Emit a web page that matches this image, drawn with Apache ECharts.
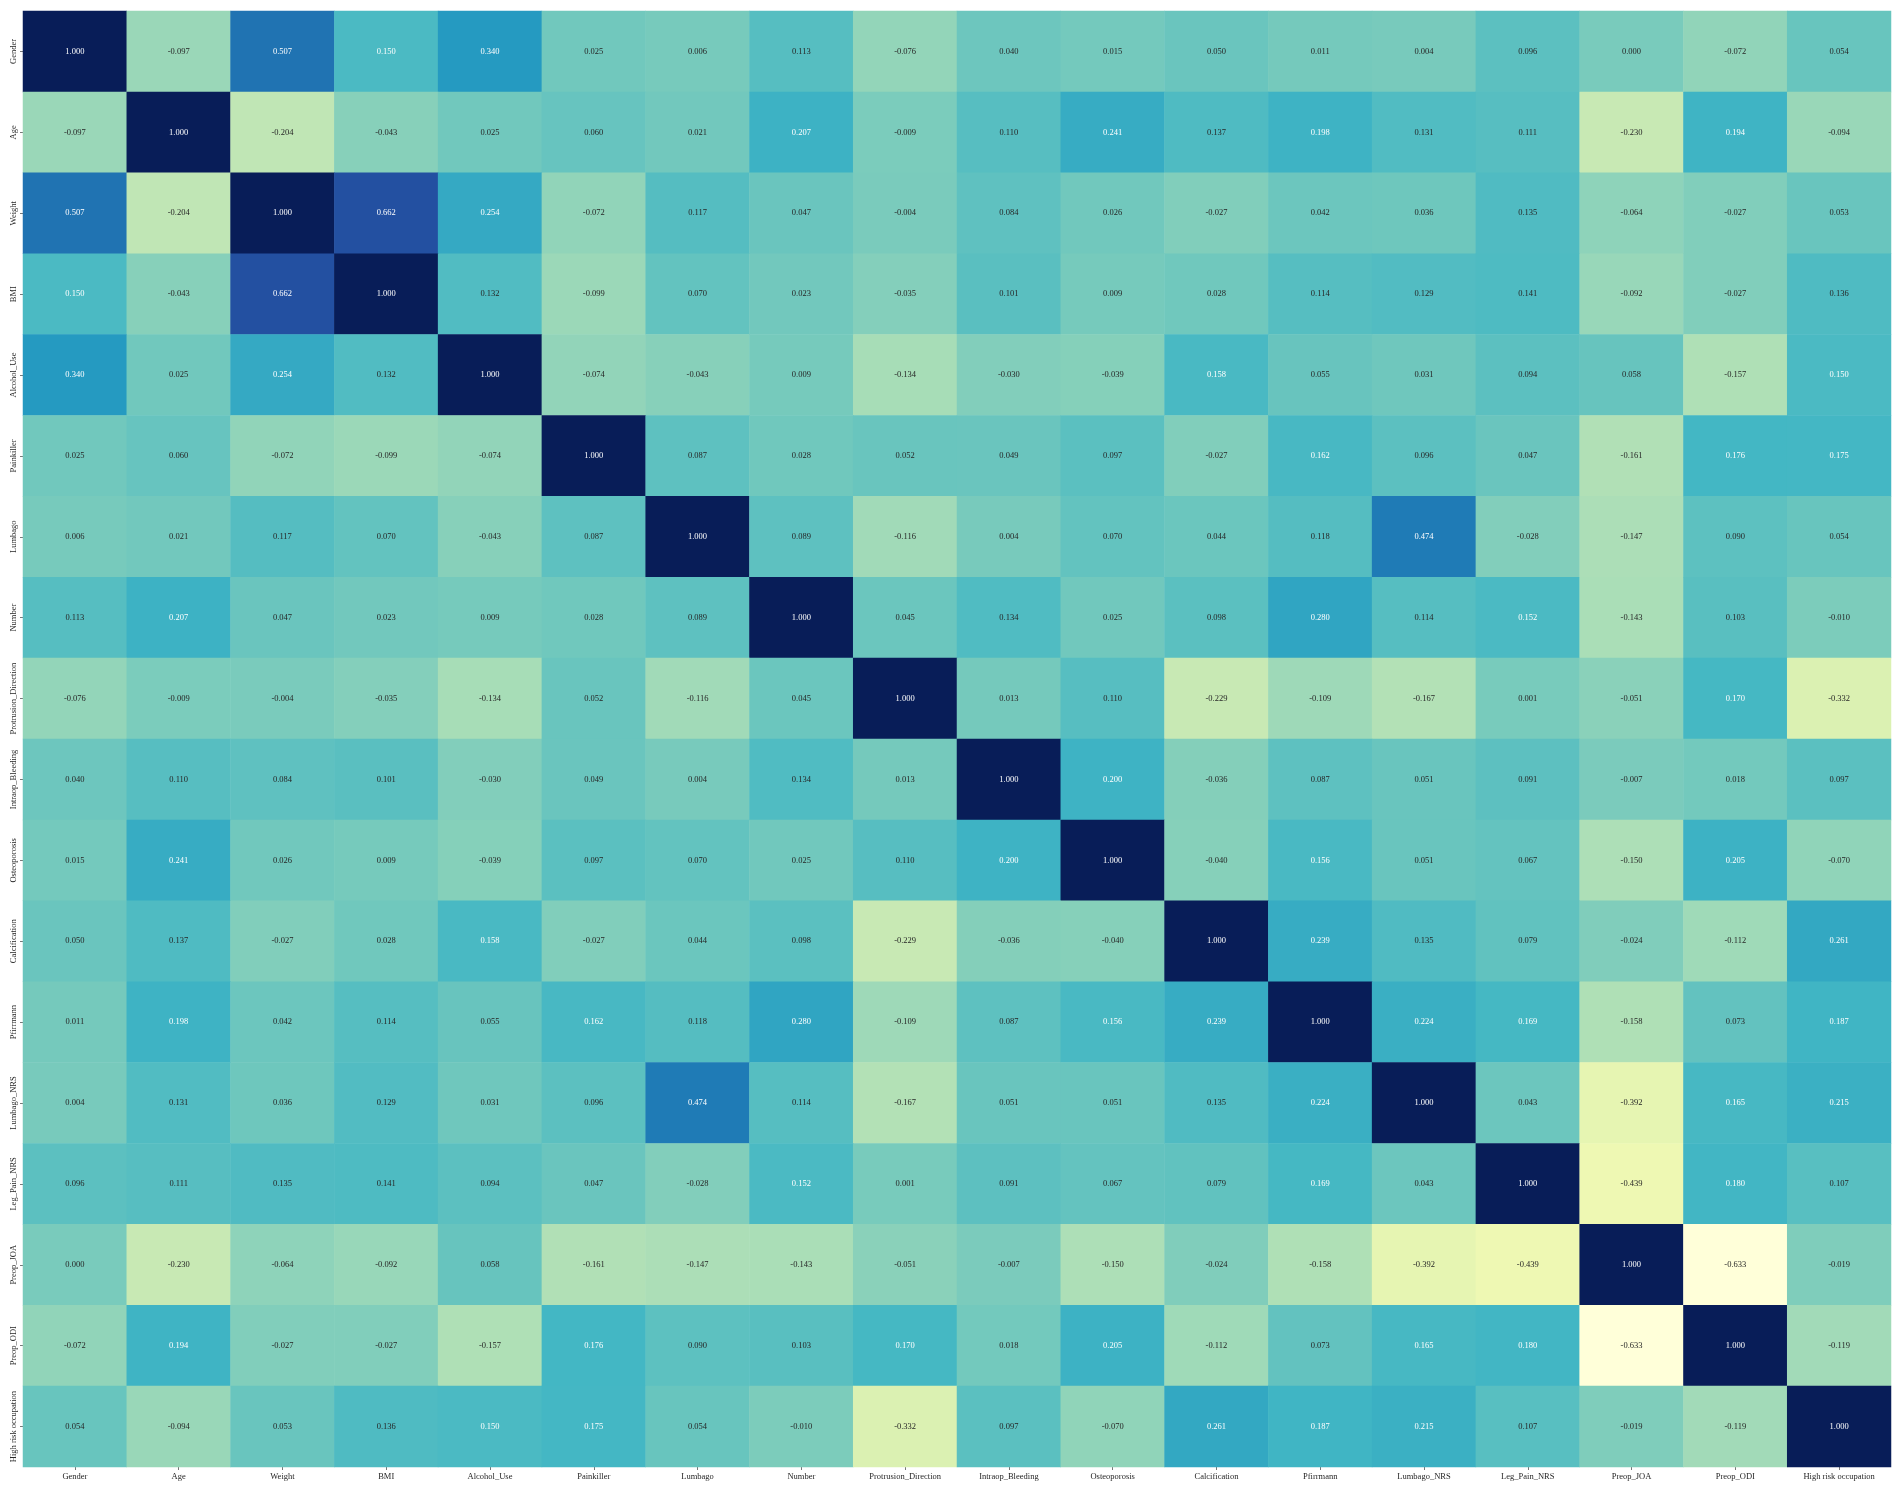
<!DOCTYPE html>
<html>
<head>
<meta charset="utf-8">
<script src="https://cdn.jsdelivr.net/npm/echarts@6/dist/echarts.min.js"></script>
<style>
html,body{margin:0;padding:0;background:#fff;}
#chart{width:1902px;height:1490px;}
</style>
</head>
<body>
<div id="chart"></div>
<script>
const labels = ["Gender","Age","Weight","BMI","Alcohol_Use","Painkiller","Lumbago","Number","Protrusion_Direction","Intraop_Bleeding","Osteoporosis","Calcification","Pfirrmann","Lumbago_NRS","Leg_Pain_NRS","Preop_JOA","Preop_ODI","High risk occupation"];

const rowGender      = [1.000,-0.097,0.507,0.150,0.340,0.025,0.006,0.113,-0.076,0.040,0.015,0.050,0.011,0.004,0.096,0.000,-0.072,0.054];
const rowAge         = [-0.097,1.000,-0.204,-0.043,0.025,0.060,0.021,0.207,-0.009,0.110,0.241,0.137,0.198,0.131,0.111,-0.230,0.194,-0.094];
const rowWeight      = [0.507,-0.204,1.000,0.662,0.254,-0.072,0.117,0.047,-0.004,0.084,0.026,-0.027,0.042,0.036,0.135,-0.064,-0.027,0.053];
const rowBMI         = [0.150,-0.043,0.662,1.000,0.132,-0.099,0.070,0.023,-0.035,0.101,0.009,0.028,0.114,0.129,0.141,-0.092,-0.027,0.136];
const rowAlcohol     = [0.340,0.025,0.254,0.132,1.000,-0.074,-0.043,0.009,-0.134,-0.030,-0.039,0.158,0.055,0.031,0.094,0.058,-0.157,0.150];
const rowPainkiller  = [0.025,0.060,-0.072,-0.099,-0.074,1.000,0.087,0.028,0.052,0.049,0.097,-0.027,0.162,0.096,0.047,-0.161,0.176,0.175];
const rowLumbago     = [0.006,0.021,0.117,0.070,-0.043,0.087,1.000,0.089,-0.116,0.004,0.070,0.044,0.118,0.474,-0.028,-0.147,0.090,0.054];
const rowNumber      = [0.113,0.207,0.047,0.023,0.009,0.028,0.089,1.000,0.045,0.134,0.025,0.098,0.280,0.114,0.152,-0.143,0.103,-0.010];
const rowProtrusion  = [-0.076,-0.009,-0.004,-0.035,-0.134,0.052,-0.116,0.045,1.000,0.013,0.110,-0.229,-0.109,-0.167,0.001,-0.051,0.170,-0.332];
const rowIntraop     = [0.040,0.110,0.084,0.101,-0.030,0.049,0.004,0.134,0.013,1.000,0.200,-0.036,0.087,0.051,0.091,-0.007,0.018,0.097];
const rowOsteo       = [0.015,0.241,0.026,0.009,-0.039,0.097,0.070,0.025,0.110,0.200,1.000,-0.040,0.156,0.051,0.067,-0.150,0.205,-0.070];
const rowCalc        = [0.050,0.137,-0.027,0.028,0.158,-0.027,0.044,0.098,-0.229,-0.036,-0.040,1.000,0.239,0.135,0.079,-0.024,-0.112,0.261];
const rowPfirrmann   = [0.011,0.198,0.042,0.114,0.055,0.162,0.118,0.280,-0.109,0.087,0.156,0.239,1.000,0.224,0.169,-0.158,0.073,0.187];
const rowLumbagoNRS  = [0.004,0.131,0.036,0.129,0.031,0.096,0.474,0.114,-0.167,0.051,0.051,0.135,0.224,1.000,0.043,-0.392,0.165,0.215];
const rowLegPainNRS  = [0.096,0.111,0.135,0.141,0.094,0.047,-0.028,0.152,0.001,0.091,0.067,0.079,0.169,0.043,1.000,-0.439,0.180,0.107];
const rowPreopJOA    = [0.000,-0.230,-0.064,-0.092,0.058,-0.161,-0.147,-0.143,-0.051,-0.007,-0.150,-0.024,-0.158,-0.392,-0.439,1.000,-0.633,-0.019];
const rowPreopODI    = [-0.072,0.194,-0.027,-0.027,-0.157,0.176,0.090,0.103,0.170,0.018,0.205,-0.112,0.073,0.165,0.180,-0.633,1.000,-0.119];
const rowHighRisk    = [0.054,-0.094,0.053,0.136,0.150,0.175,0.054,-0.010,-0.332,0.097,-0.070,0.261,0.187,0.215,0.107,-0.019,-0.119,1.000];

const matrix = [rowGender,rowAge,rowWeight,rowBMI,rowAlcohol,rowPainkiller,rowLumbago,rowNumber,rowProtrusion,rowIntraop,rowOsteo,rowCalc,rowPfirrmann,rowLumbagoNRS,rowLegPainNRS,rowPreopJOA,rowPreopODI,rowHighRisk];

const ylgnbu = ['#ffffd9','#edf8b1','#c7e9b4','#7fcdbb','#41b6c4','#1d91c0','#225ea8','#253494','#081d58'];
const vmin = -0.633, vmax = 1.0;

const FONT = '"Liberation Serif", "Times New Roman", serif';

const data = [];
matrix.forEach((row, i) => {
  row.forEach((v, j) => {
    data.push({
      value: [j, i, v],
      label: { color: v >= 0.145 ? '#ffffff' : '#262626' }
    });
  });
});

const chart = echarts.init(document.getElementById('chart'), null, {renderer: 'canvas'});
chart.setOption({
  animation: false,
  backgroundColor: '#ffffff',
  grid: { left: 23, top: 11, width: 1868, height: 1456 },
  xAxis: {
    type: 'category',
    data: labels,
    axisLine: { show: false },
    axisTick: { show: true, length: 3, alignWithLabel: true, lineStyle: { color: '#555', width: 0.8 } },
    axisLabel: { interval: 0, fontFamily: FONT, fontSize: 8.5, color: '#262626', margin: 5 },
    splitLine: { show: false }
  },
  yAxis: {
    type: 'category',
    data: labels,
    inverse: true,
    axisLine: { show: false },
    axisTick: { show: true, length: 3, alignWithLabel: true, lineStyle: { color: '#555', width: 0.8 } },
    axisLabel: { interval: 0, rotate: 90, fontFamily: FONT, fontSize: 8.5, color: '#262626', margin: 5 },
    splitLine: { show: false }
  },
  visualMap: {
    show: false,
    min: vmin,
    max: vmax,
    dimension: 2,
    inRange: { color: ylgnbu }
  },
  series: [{
    type: 'heatmap',
    data: data,
    label: {
      show: true,
      fontFamily: FONT,
      fontSize: 8.5,
      formatter: p => p.value[2].toFixed(3)
    },
    itemStyle: { borderWidth: 0 },
    emphasis: { disabled: true }
  }]
});
</script>
</body>
</html>
